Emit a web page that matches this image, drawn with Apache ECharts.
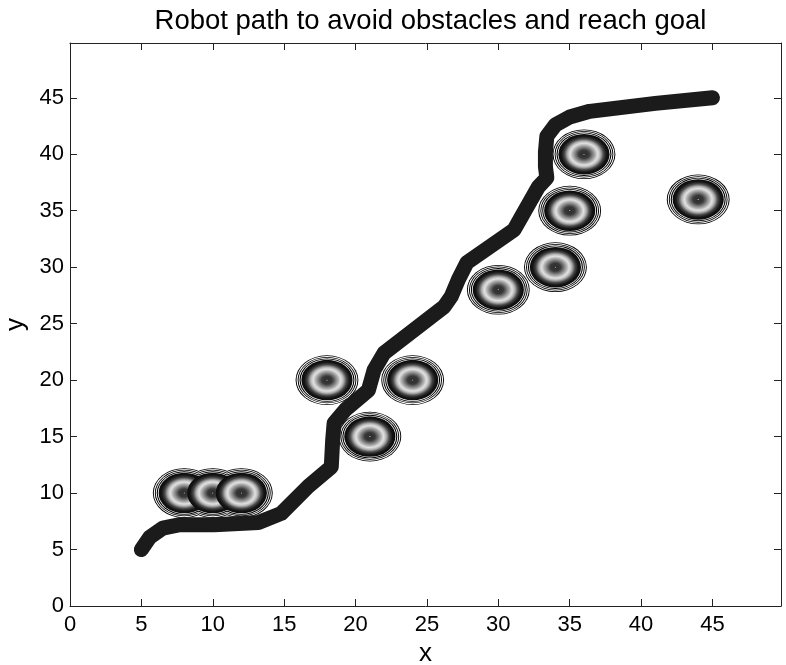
<!DOCTYPE html>
<html>
<head>
<meta charset="utf-8">
<script src="https://cdn.jsdelivr.net/npm/echarts@6/dist/echarts.min.js"></script>
<style>html,body{margin:0;padding:0;background:#fff;}#chart{width:786px;height:665px;}</style>
</head>
<body>
<div id="chart"></div>
<script>
// ---- data ----
const titleText = 'Robot path to avoid obstacles and reach goal';
const xTicks = [0, 5, 10, 15, 20, 25, 30, 35, 40, 45];
const yTicks = [0, 5, 10, 15, 20, 25, 30, 35, 40, 45];
const xMax = 49.8;
const yMax = 49.85;

const obstacleX = [8, 10, 12, 18, 21, 24, 30, 34, 35, 36, 44];
const obstacleY = [10, 10, 10, 20, 15, 20, 28, 30, 35, 40, 36];
const obstacleRadius = 2.2;

const pathX = [5, 5.6, 6.5, 7.7, 10.1, 13.2, 14.8, 16.7, 18.3, 18.4, 18.5, 19.3, 20.9, 21.3, 22.0, 26.2, 26.7, 27.2, 27.8, 31.1, 31.5, 32.8, 33.4, 33.3, 33.3, 33.4, 34.0, 35.0, 36.4, 41.0, 45.0];
const pathY = [5, 6.1, 6.9, 7.2, 7.2, 7.4, 8.2, 10.6, 12.3, 14.7, 16.2, 17.4, 19.1, 20.9, 22.4, 26.5, 27.4, 28.9, 30.4, 33.3, 34.2, 37.1, 37.9, 38.9, 40.2, 41.6, 42.6, 43.3, 43.8, 44.5, 45.0];

// ---- contour layers (drawn layer by layer across all obstacles so overlapping rings merge) ----
const grad = {
  type: 'radial', x: 0.5, y: 0.5, r: 0.5,
  colorStops: [
    {offset: 0, color: '#d0d0d0'},
    {offset: 0.04, color: '#2e2e2e'},
    {offset: 0.2, color: '#383838'},
    {offset: 0.4, color: '#9c9c9c'},
    {offset: 0.54, color: '#e2e2e2'},
    {offset: 0.64, color: '#b4b4b4'},
    {offset: 0.77, color: '#454545'},
    {offset: 0.88, color: '#161616'},
    {offset: 1, color: '#0a0a0a'}
  ]
};
const layers = [
  {f: 1.0, fill: '#000'},
  {f: 0.97, fill: '#fff'},
  {f: 0.935, fill: '#000'},
  {f: 0.905, fill: '#fff'},
  {f: 0.875, fill: '#000'},
  {f: 0.84, fill: '#fff'},
  {f: 0.815, fill: grad}
];
const obstacleData = [];
layers.forEach((L, li) => {
  obstacleX.forEach((x, i) => obstacleData.push([x, obstacleY[i], li]));
});
const pathData = pathX.map((x, i) => [x, pathY[i]]);

const font = 'Liberation Sans, Arial, Helvetica, sans-serif';
const axisColor = '#222';

function mkX(pos, labels) {
  return {
    type: 'value', min: 0, max: xMax, interval: 5, position: pos,
    axisLine: {show: true, onZero: false, lineStyle: {color: axisColor, width: 1}},
    axisTick: {show: true, inside: true, length: 7, lineStyle: {color: axisColor}},
    axisLabel: {show: labels, fontSize: 22, color: '#000', fontFamily: font, margin: 8,
      formatter: v => xTicks.indexOf(v) >= 0 ? String(v) : ''},
    splitLine: {show: false},
    name: labels ? 'x' : '', nameLocation: 'middle', nameGap: 19,
    nameTextStyle: {fontSize: 26, color: '#000', fontFamily: font}
  };
}
function mkY(pos, labels) {
  return {
    type: 'value', min: 0, max: yMax, interval: 5, position: pos,
    axisLine: {show: true, onZero: false, lineStyle: {color: axisColor, width: 1}},
    axisTick: {show: true, inside: true, length: 7, lineStyle: {color: axisColor}},
    axisLabel: {show: labels, fontSize: 22, color: '#000', fontFamily: font, margin: 6,
      formatter: v => yTicks.indexOf(v) >= 0 ? String(v) : ''},
    splitLine: {show: false},
    name: labels ? 'y' : '', nameLocation: 'middle', nameGap: 41, nameRotate: 90,
    nameTextStyle: {fontSize: 26, color: '#000', fontFamily: font}
  };
}

const chart = echarts.init(document.getElementById('chart'), null, {renderer: 'canvas'});
chart.setOption({
  animation: false,
  backgroundColor: '#fff',
  title: {
    text: titleText, left: 425.5, textAlign: 'center', top: 2,
    textStyle: {fontSize: 27.5, fontWeight: 'normal', color: '#000', fontFamily: font}
  },
  grid: {left: 70, right: 5, top: 43, bottom: 59, containLabel: false, outerBoundsMode: 'none'},
  xAxis: [mkX('bottom', true), mkX('top', false)],
  yAxis: [mkY('left', true), mkY('right', false)],
  series: [
    {
      type: 'custom', xAxisIndex: 0, yAxisIndex: 0, data: obstacleData, clip: true,
      renderItem: function (params, api) {
        const c = api.coord([api.value(0), api.value(1)]);
        const s = api.size([obstacleRadius, obstacleRadius]);
        const L = layers[api.value(2)];
        return {
          type: 'group', x: c[0], y: c[1], scaleX: 1, scaleY: s[1] / s[0],
          children: [{
            type: 'circle', shape: {cx: 0, cy: 0, r: s[0] * L.f},
            style: {fill: L.fill, stroke: null}
          }]
        };
      }
    },
    {
      type: 'line', xAxisIndex: 0, yAxisIndex: 0, data: pathData,
      showSymbol: false, symbol: 'none', smooth: false,
      lineStyle: {color: '#1b1b1b', width: 15, cap: 'round', join: 'round'}
    }
  ]
});
</script>
</body>
</html>
